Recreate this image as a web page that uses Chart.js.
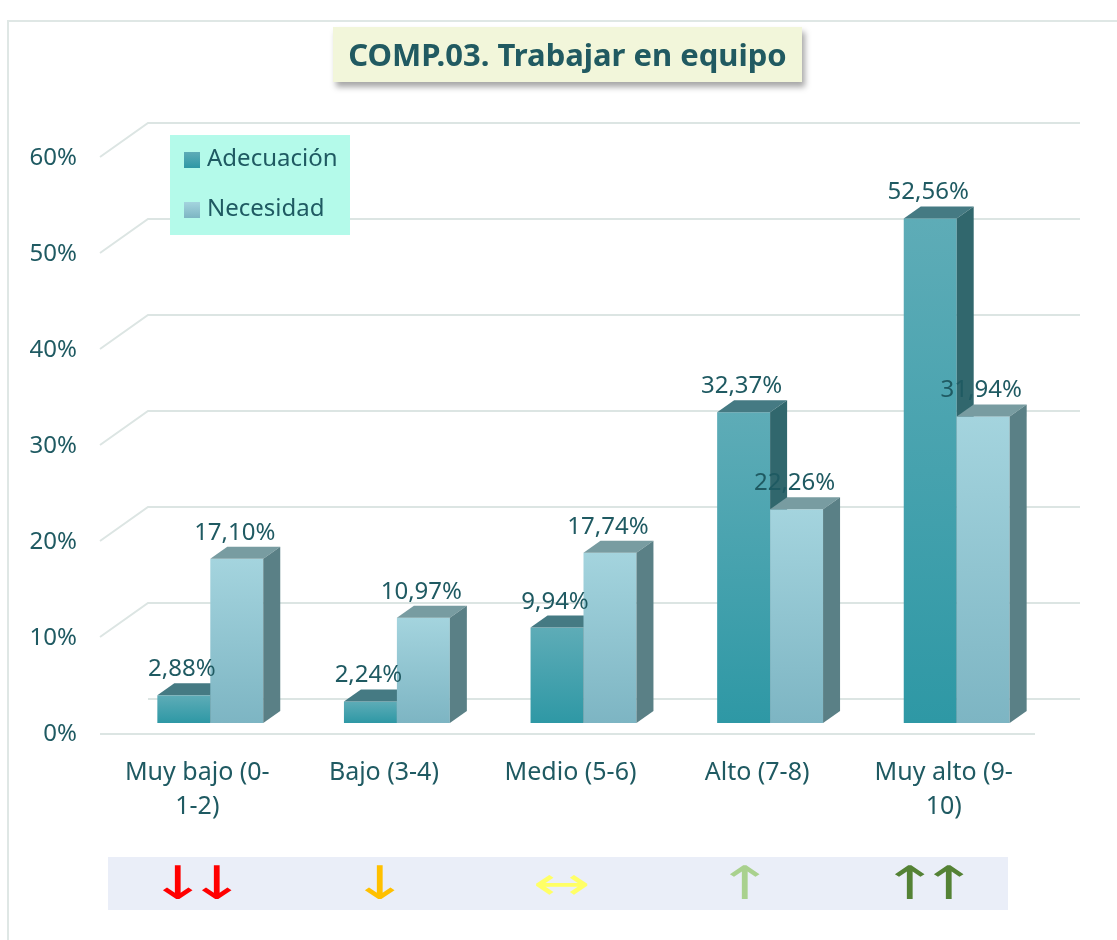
<!DOCTYPE html>
<html>
<head>
<meta charset="utf-8">
<script src="https://cdn.jsdelivr.net/npm/chart.js@4.4.1/dist/chart.umd.min.js"></script>
<style>
html, body { margin: 0; padding: 0; background: #fff; }
#wrap { position: relative; width: 1117px; height: 940px; overflow: hidden; font-family: "Noto Sans", sans-serif; }
#frame { position: absolute; left: 7px; top: 20px; width: 1200px; height: 1000px; border: 2px solid #dfe7e5; }
#chart { position: absolute; left: 0; top: 0; }
#title { position: absolute; left: 333px; top: 27px; width: 469px; height: 55px; background: #f2f6da;
  box-shadow: 3px 5px 6px rgba(0,0,0,0.35); color: #215a61; font-weight: bold; font-size: 31px;
  line-height: 55px; text-align: center; white-space: nowrap; }
#strip { position: absolute; left: 108px; top: 857px; width: 900px; height: 53px; background: #eaeef8; }
.arr { position: absolute; top: 0; height: 53px; line-height: 53px; transform: translateX(-50%) scaleX(1.5);
  font-family: "DejaVu Sans", sans-serif; font-size: 46px; font-weight: normal; white-space: nowrap; }
</style>
</head>
<body>
<div id="wrap">
  <div id="frame"></div>
  <canvas id="chart" width="1117" height="940"></canvas>
  <div id="title">COMP.03. Trabajar en equipo</div>
  <div id="strip"></div>
</div>
<script>
const categories = [['Muy bajo (0-', '1-2)'], 'Bajo (3-4)', 'Medio (5-6)', 'Alto (7-8)', ['Muy alto (9-', '10)']];
const adecuacion = [2.88, 2.24, 9.94, 32.37, 52.56];
const necesidad = [17.10, 10.97, 17.74, 22.26, 31.94];
const seriesNames = ['Adecuación', 'Necesidad'];
const arrowSymbols = ['↓↓', '↓', '↔', '↑', '↑↑'];
const arrowColors = ['#ff0000', '#ffc000', '#ffff66', '#a9d18e', '#548235'];

const textColor = '#1f5a62';
const font = '"Noto Sans", sans-serif';

// colours of the 3d faces: front top, front bottom, top face, side face
const faces = [
    { top: '#5eacb7', bottom: '#2e98a5', cap: '#457a83', side: '#31676d' },
    { top: '#a4d4de', bottom: '#7db5c3', cap: '#789ca1', side: '#5a8086' }
];
const depth = { x: 17, y: -12 };

function fmt(v) {
    return v.toFixed(2).replace('.', ',') + '%';
}

const walls = {
    id: 'walls',
    beforeDatasetsDraw(chart) {
        const ctx = chart.ctx;
        const y = chart.scales.y;
        ctx.save();
        ctx.strokeStyle = '#dce5e3';
        ctx.lineWidth = 2;
        y.ticks.forEach(t => {
            const py = y.getPixelForValue(t.value);
            ctx.beginPath();
            if (t.value === 0) {
                ctx.moveTo(148, py - 24);
                ctx.lineTo(1080, py - 24);
                ctx.moveTo(100, py + 11);
                ctx.lineTo(1035, py + 11);
            } else {
                ctx.moveTo(100, py + 10);
                ctx.lineTo(148, py - 24);
                ctx.lineTo(1080, py - 24);
            }
            ctx.stroke();
        });
        ctx.restore();
    }
};

const bars3d = {
    id: 'bars3d',
    afterDatasetsDraw(chart) {
        const ctx = chart.ctx;
        const metas = [chart.getDatasetMeta(0), chart.getDatasetMeta(1)];
        ctx.save();
        for (let i = 0; i < categories.length; i++) {
            metas.forEach((meta, d) => {
                const { x, y, base, width } = meta.data[i].getProps(['x', 'y', 'base', 'width'], true);
                const l = x - width / 2, r = x + width / 2;
                const c = faces[d];
                const g = ctx.createLinearGradient(0, y, 0, base);
                g.addColorStop(0, c.top);
                g.addColorStop(1, c.bottom);
                ctx.fillStyle = g;
                ctx.fillRect(l, y, width, base - y);
                // top
                ctx.fillStyle = c.cap;
                ctx.beginPath();
                ctx.moveTo(l, y);
                ctx.lineTo(l + depth.x, y + depth.y);
                ctx.lineTo(r + depth.x, y + depth.y);
                ctx.lineTo(r, y);
                ctx.closePath();
                ctx.fill();
                // side
                ctx.fillStyle = c.side;
                ctx.beginPath();
                ctx.moveTo(r, y);
                ctx.lineTo(r + depth.x, y + depth.y);
                ctx.lineTo(r + depth.x, base + depth.y);
                ctx.lineTo(r, base);
                ctx.closePath();
                ctx.fill();
            });
        }
        // value labels
        ctx.fillStyle = textColor;
        ctx.font = '24px ' + font;
        ctx.textAlign = 'center';
        ctx.textBaseline = 'alphabetic';
        metas.forEach((meta, d) => {
            const values = chart.data.datasets[d].data;
            meta.data.forEach((bar, i) => {
                ctx.fillText(fmt(values[i]), bar.x - 2, bar.y - 19);
            });
        });
        ctx.restore();
    }
};

const legendBox = {
    id: 'legendBox',
    afterDraw(chart) {
        const ctx = chart.ctx;
        ctx.save();
        ctx.fillStyle = '#b4faea';
        ctx.fillRect(170, 135, 180, 100);
        chart.data.datasets.forEach((ds, d) => {
            const sy = 152 + d * 50;
            const g = ctx.createLinearGradient(0, sy, 0, sy + 16);
            g.addColorStop(0, faces[d].top);
            g.addColorStop(1, faces[d].bottom);
            ctx.fillStyle = g;
            ctx.fillRect(184, sy, 16, 16);
            ctx.fillStyle = textColor;
            ctx.font = '24px ' + font;
            ctx.textBaseline = 'middle';
            ctx.fillText(ds.label, 207, sy + 7);
        });
        ctx.restore();
    }
};

const chart = new Chart(document.getElementById('chart'), {
    type: 'bar',
    data: {
        labels: categories,
        datasets: [
            { label: seriesNames[0], data: adecuacion, backgroundColor: 'rgba(0,0,0,0)' },
            { label: seriesNames[1], data: necesidad, backgroundColor: 'rgba(0,0,0,0)' }
        ]
    },
    options: {
        responsive: false,
        animation: false,
        categoryPercentage: 0.5676,
        barPercentage: 1,
        layout: { padding: { left: 0, right: 67, top: 147, bottom: 0 } },
        plugins: { legend: { display: false }, tooltip: { enabled: false } },
        scales: {
            x: {
                grid: { display: false, drawTicks: false },
                border: { display: false },
                ticks: {
                    color: textColor, font: { family: font, size: 25, lineHeight: 1.35 }, padding: 33,
                    labelOffset: -13, maxRotation: 0, autoSkip: false
                },
                afterFit: s => { s.height = 940 - 147 - 576; }
            },
            y: {
                min: 0, max: 60,
                grid: { display: false, drawTicks: false },
                border: { display: false },
                ticks: {
                    stepSize: 10, callback: v => v + '%', padding: 40, labelOffset: 11,
                    color: textColor, font: { family: font, size: 24 }
                },
                afterFit: s => { s.width = 117; }
            }
        }
    },
    plugins: [walls, bars3d, legendBox]
});

// arrow strip below the chart, one span per arrow glyph
const arrowCenters = [197, 380, 562, 745, 929];
const arrowGap = 39;
const strip = document.getElementById('strip');
arrowSymbols.forEach((sym, i) => {
    const glyphs = Array.from(sym);
    glyphs.forEach((g, k) => {
        const span = document.createElement('span');
        span.className = 'arr';
        span.textContent = g;
        span.style.color = arrowColors[i];
        const cx = arrowCenters[i] + (k - (glyphs.length - 1) / 2) * arrowGap;
        span.style.left = (cx - 108) + 'px';
        strip.appendChild(span);
    });
});
</script>
</body>
</html>
